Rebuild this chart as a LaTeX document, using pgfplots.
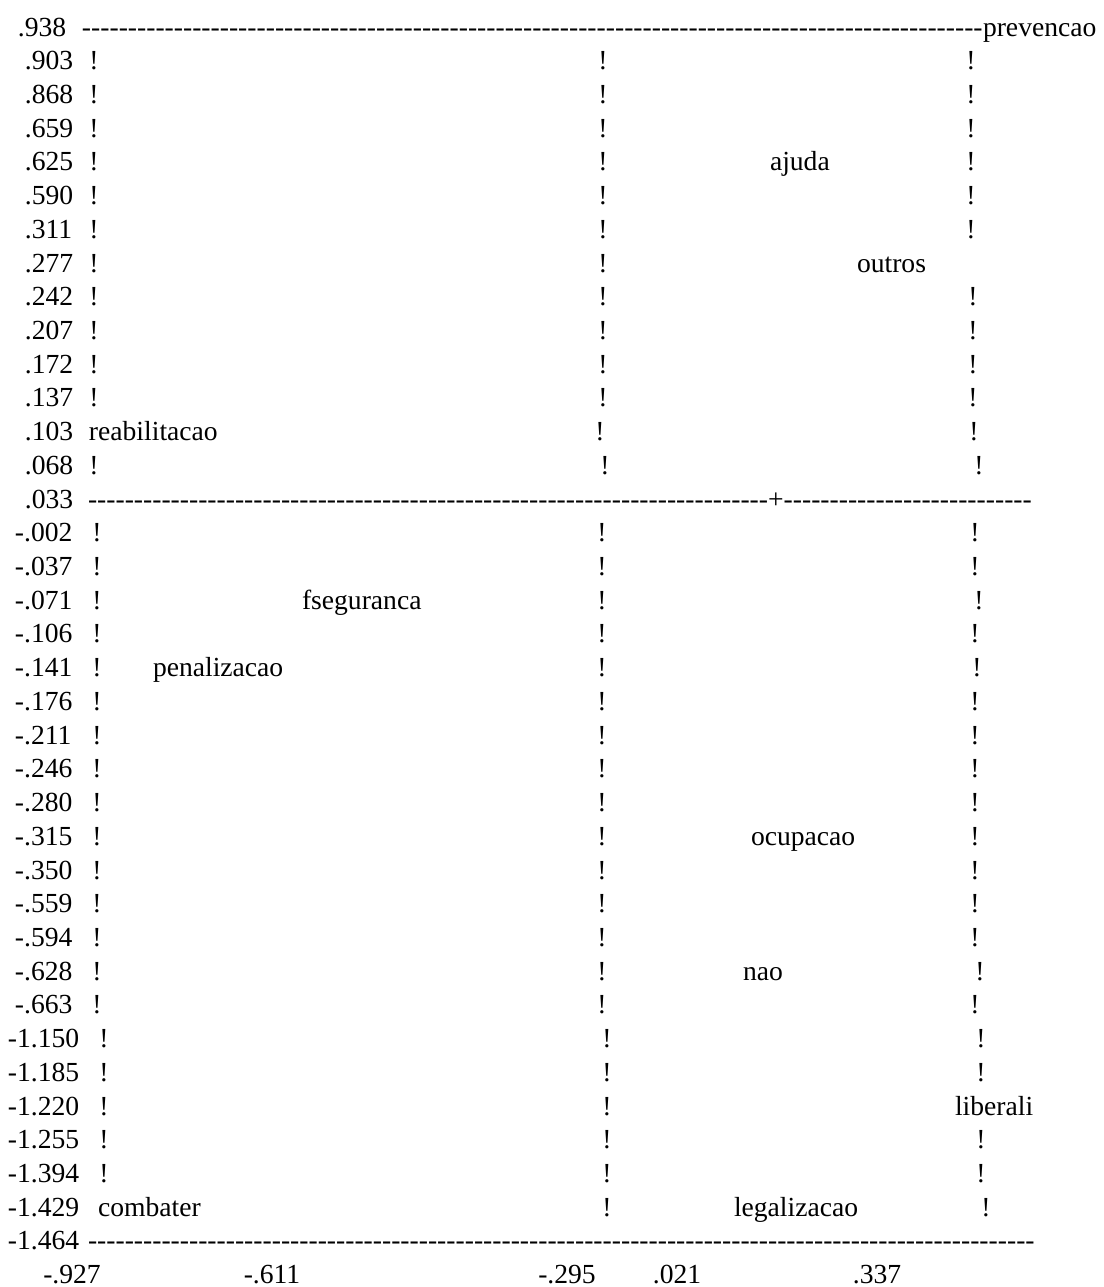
\documentclass[border=0pt]{standalone}
\usepackage{fontspec}
\setmainfont{Liberation Serif}[Ligatures=TeXOff]
\usepackage{pgfplots}
\pgfplotsset{compat=1.18}
\newcount\hcnt
\protected\def\hy#1{\hcnt=#1\relax\loop\ifnum\hcnt>0 -\advance\hcnt by -1\relax\repeat}
\newcommand\fs{\fontsize{13.8}{16}\selectfont}
\def\sA{\hspace*{9pt}}
\def\sB{\hspace*{12.5pt}}
\def\sC{\hspace*{7.5pt}}
\def\sD{\hspace*{4pt}}
\begin{document}
\fs
\begin{tikzpicture}[font=\fs]
\begin{axis}[
  scale only axis, width=552pt, height=643.5pt,
  xmin=0, xmax=1104, ymin=-1.0676, ymax=37.0997, y dir=reverse,
  clip=false,
  axis line style={draw=none}, major tick length=0pt, tick style={draw=none},
  tick label style={font=\fs, inner sep=0pt, outer sep=0pt},
  xtick={72,272,567,677,877},
  xticklabels={-.927,-.611,-.295,.021,.337},
  xticklabel style={anchor=base, yshift=1.7pt},
  ytick={0,...,36},
  yticklabels={\sA.938,\sB.903,\sB.868,\sB.659,\sB.625,\sB.590,\sB.311,\sB.277,\sB.242,\sB.207,\sB.172,\sB.137,\sB.103,\sB.068,\sB.033,
    \sC-.002,\sC-.037,\sC-.071,\sC-.106,\sC-.141,\sC-.176,\sC-.211,\sC-.246,\sC-.280,\sC-.315,\sC-.350,\sC-.559,\sC-.594,\sC-.628,\sC-.663,
    \sD-1.150,\sD-1.185,\sD-1.220,\sD-1.255,\sD-1.394,\sD-1.429,\sD-1.464},
  yticklabel style={anchor=base west},
  every node near coord/.append style={inner sep=0pt, outer sep=0pt, font=\fs, text=black},
]
% invisible frame of the picture
\addplot[draw=none, forget plot] coordinates {(0,-1.0676) (1104,37.0997)};

% dashed frame lines written as text
\addplot[draw=none, mark=none, nodes near coords={\hy{98}},
  every node near coord/.append style={anchor=base west}] coordinates {(82,0)};
\addplot[draw=none, mark=none, nodes near coords={\hy{74}+\hy{27}},
  every node near coord/.append style={anchor=base west}] coordinates {(88,14)};
\addplot[draw=none, mark=none, nodes near coords={\hy{103}},
  every node near coord/.append style={anchor=base west}] coordinates {(88,36)};

% vertical bars "!"
\addplot[draw=none, mark=none, nodes near coords={!},
  every node near coord/.append style={anchor=base}] coordinates {
  (94,1) (94,2) (94,3) (94,4) (94,5) (94,6) (94,7) (94,8) (94,9) (94,10) (94,11) (94,13)
  (97,15) (97,16) (97,17) (97,18) (97,19) (97,20) (97,21) (97,22) (97,23) (97,24) (97,25) (97,26) (97,27) (97,28) (97,29)
  (104,30) (104,31) (104,32) (104,33) (104,34)
  (603,1) (603,2) (603,3) (603,4) (603,5) (603,6) (603,7) (603,8) (603,9) (603,10) (603,11) (600,12) (605,13)
  (602,15) (602,16) (602,17) (602,18) (602,19) (602,20) (602,21) (602,22) (602,23) (602,24) (602,25) (602,26) (602,27) (602,28) (602,29)
  (607,30) (607,31) (607,32) (607,33) (607,34) (607,35)
  (971,1) (971,2) (971,3) (971,4) (971,5) (971,6) (973,8) (973,9) (973,10) (973,11) (974,12) (979,13)
  (975,15) (975,16) (979,17) (975,18) (977,19) (975,20) (975,21) (975,22) (975,23) (975,24) (975,25) (975,26) (975,27) (980,28) (975,29)
  (981,30) (981,31) (981,33) (981,34) (986,35)
};

% category points
\addplot[draw=none, mark=none, point meta=explicit symbolic, nodes near coords,
  every node near coord/.append style={anchor=base west}] coordinates {
  (983,0) [prevencao]
  (770,4) [ajuda]
  (857,7) [outros]
  (89,12) [reabilitacao]
  (302,17) [fseguranca]
  (153,19) [penalizacao]
  (751,24) [ocupacao]
  (743,28) [nao]
  (955,32) [liberali]
  (98,35) [combater]
  (734,35) [legalizacao]
};
\end{axis}
\end{tikzpicture}
\end{document}
